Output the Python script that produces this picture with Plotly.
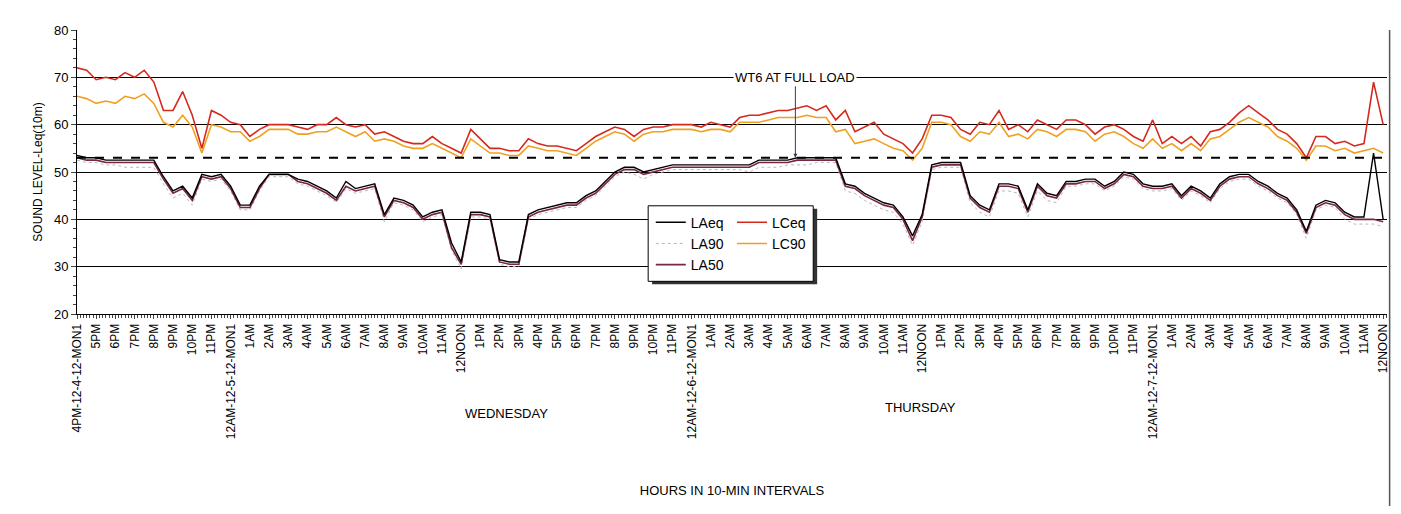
import plotly.graph_objects as go

# half-hour readings, 4PM day 1 .. 12NOON day 4
hours = [i * 0.5 for i in range(137)]

laeq = [53.5, 53, 53, 52.5, 52.5, 52.5, 52.5, 52.5, 52.5,
        49, 46, 47, 44.5, 49.5, 49, 49.5, 47,
        43, 43, 47, 49.5, 49.5, 49.5, 48.5, 48,
        47, 46, 44.5, 48, 46.5, 47, 47.5, 41,
        44.5, 44, 43, 40.5, 41.5, 42, 35, 31,
        41.5, 41.5, 41, 31.5, 31, 31, 41, 42,
        42.5, 43, 43.5, 43.5, 45, 46, 48, 50,
        51, 51, 50, 50.5, 51, 51.5, 51.5, 51.5,
        51.5, 51.5, 51.5, 51.5, 51.5, 51.5, 52.5, 52.5,
        52.5, 52.5, 53, 53, 53, 53, 53, 47.5,
        47, 45.5, 44.5, 43.5, 43, 40.5, 36.5, 41,
        51.5, 52, 52, 52, 45, 43, 42, 47.5,
        47.5, 47, 42, 47.5, 45.5, 45, 48, 48,
        48.5, 48.5, 47, 48, 50, 49.5, 47.5, 47,
        47, 47.5, 45, 47, 46, 44.5, 47.5, 49,
        49.5, 49.5, 48, 47, 45.5, 44.5, 42, 37.5,
        43, 44, 43.5, 41.5, 40.5, 40.5, 54, 40]

la90 = [52.5, 52, 52, 51.5, 51.5, 51, 51, 51, 51,
        47.5, 44.5, 45.5, 43, 48.5, 48, 48.5, 46,
        42, 42, 46, 49, 49, 49, 47.5, 47,
        46, 45, 43.5, 46.5, 45.5, 46, 46.5, 39.5,
        43.5, 43, 42, 39.5, 40.5, 41, 33.5, 29.5,
        40.5, 40.5, 40, 30.5, 30, 30, 40, 41,
        41.5, 42, 42.5, 42.5, 44, 45, 47, 49,
        50, 49.5, 48.5, 49.5, 50, 50.5, 50.5, 50.5,
        50.5, 50.5, 50.5, 50.5, 50.5, 50, 51, 51,
        51, 51.5, 51.5, 51.5, 52, 52, 52, 46,
        45.5, 44, 43, 42, 41.5, 39, 34.5, 39.5,
        50.5, 51, 51, 51, 43.5, 41.5, 40.5, 46,
        46, 45.5, 40.5, 46, 44, 43.5, 47, 47,
        47.5, 47.5, 46, 47, 49, 48.5, 46.5, 46,
        46, 46.5, 44, 46, 45, 43.5, 46.5, 48,
        48.5, 48.5, 47, 46, 44.5, 43.5, 41, 36,
        42, 43, 42.5, 40, 39, 39, 39, 38.5]

la50 = [53, 52.5, 52.5, 52, 52, 52, 52, 52, 52,
        48.5, 45.5, 46.5, 44, 49, 48.5, 49, 46.5,
        42.5, 42.5, 46.5, 49.5, 49.5, 49.5, 48, 47.5,
        46.5, 45.5, 44, 47, 46, 46.5, 47, 40.5,
        44, 43.5, 42.5, 40, 41, 41.5, 34, 30.5,
        41, 41, 40.5, 31, 30.5, 30.5, 40.5, 41.5,
        42, 42.5, 43, 43, 44.5, 45.5, 47.5, 49.5,
        50.5, 50.5, 49.5, 50, 50.5, 51, 51, 51,
        51, 51, 51, 51, 51, 51, 52, 52,
        52, 52, 52.5, 52.5, 52.5, 52.5, 52.5, 47,
        46.5, 45, 44, 43, 42.5, 40, 35.5, 40.5,
        51, 51.5, 51.5, 51.5, 44.5, 42.5, 41.5, 47,
        47, 46.5, 41.5, 47, 45, 44.5, 47.5, 47.5,
        48, 48, 46.5, 47.5, 49.5, 49, 47, 46.5,
        46.5, 47, 44.5, 46.5, 45.5, 44, 47, 48.5,
        49, 49, 47.5, 46.5, 45, 44, 41.5, 37,
        42.5, 43.5, 43, 41, 40, 40, 40, 39.5]

lceq = [72, 71.5, 69.5, 70, 69.5, 71, 70, 71.5, 69,
        63, 63, 67, 62, 55, 63, 62, 60.5,
        60, 57.5, 59, 60, 60, 60, 59.5, 59,
        60, 60, 61.5, 60, 59.5, 60, 58, 58.5,
        57.5, 56.5, 56, 56, 57.5, 56, 55, 54,
        59, 57, 55, 55, 54.5, 54.5, 57, 56,
        55.5, 55.5, 55, 54.5, 56, 57.5, 58.5, 59.5,
        59, 57.5, 59, 59.5, 59.5, 60, 60, 60,
        59.5, 60.5, 60, 59.5, 61.5, 62, 62, 62.5,
        63, 63, 63.5, 64, 63, 64, 61, 63,
        58.5, 59.5, 60.5, 58, 57, 56, 54, 57,
        62, 62, 61.5, 59, 58, 60.5, 60, 63,
        59, 60, 58.5, 61, 60, 59, 61, 61,
        60, 58, 59.5, 60, 59, 57.5, 56.5, 61,
        56, 57.5, 56, 57.5, 55.5, 58.5, 59, 60.5,
        62.5, 64, 62.5, 61, 59, 58, 56, 53,
        57.5, 57.5, 56, 56.5, 55.5, 56, 69, 60]

lc90 = [66, 65.5, 64.5, 65, 64.5, 66, 65.5, 66.5, 64.5,
        60.5, 59.5, 62, 59.5, 54, 60, 59.5, 58.5,
        58.5, 56.5, 57.5, 59, 59, 59, 58, 58,
        58.5, 58.5, 59.5, 58.5, 57.5, 58.5, 56.5, 57,
        56.5, 55.5, 55, 55, 56, 55, 54, 53,
        57, 55.5, 54, 54, 53.5, 53.5, 55.5, 55,
        54.5, 54.5, 54, 53.5, 55, 56.5, 57.5, 58.5,
        58, 56.5, 58, 58.5, 58.5, 59, 59, 59,
        58.5, 59, 59, 58.5, 60.5, 60.5, 60.5, 61,
        61.5, 61.5, 61.5, 62, 61.5, 61.5, 58.5, 59,
        56, 56.5, 57, 56, 55, 54.5, 52.5, 55,
        60.5, 60.5, 60, 57.5, 56.5, 58.5, 58, 60.5,
        57.5, 58, 57, 59, 58.5, 57.5, 59, 59,
        58.5, 56.5, 58, 58.5, 57.5, 56, 55, 57,
        55, 56, 54.5, 56, 54.5, 57, 57.5, 59,
        60.5, 61.5, 60.5, 59.5, 57.5, 56.5, 55, 52.5,
        55.5, 55.5, 54.5, 55, 54, 54.5, 55, 54]

tick_labels = [
    "4PM-12-4-12-MON1", "5PM", "6PM", "7PM", "8PM", "9PM", "10PM", "11PM",
    "12AM-12-5-12-MON1", "1AM", "2AM", "3AM", "4AM", "5AM", "6AM", "7AM", "8AM",
    "9AM", "10AM", "11AM", "12NOON", "1PM", "2PM", "3PM", "4PM", "5PM", "6PM",
    "7PM", "8PM", "9PM", "10PM", "11PM",
    "12AM-12-6-12-MON1", "1AM", "2AM", "3AM", "4AM", "5AM", "6AM", "7AM", "8AM",
    "9AM", "10AM", "11AM", "12NOON", "1PM", "2PM", "3PM", "4PM", "5PM", "6PM",
    "7PM", "8PM", "9PM", "10PM", "11PM",
    "12AM-12-7-12-MON1", "1AM", "2AM", "3AM", "4AM", "5AM", "6AM", "7AM", "8AM",
    "9AM", "10AM", "11AM", "12NOON"]
tick_hours = list(range(len(tick_labels)))

full_load_level = 53
font_family = "Liberation Sans"

fig = go.Figure()
fig.add_trace(go.Scatter(x=hours, y=la90, name="LA90", mode="lines", legend="legend",
                         legendrank=2, line=dict(color="#b8b8b8", width=1, dash="dot")))
fig.add_trace(go.Scatter(x=hours, y=lc90, name="LC90", mode="lines", legend="legend2",
                         legendrank=2, line=dict(color="#f0a020", width=1.6)))
fig.add_trace(go.Scatter(x=hours, y=lceq, name="LCeq", mode="lines", legend="legend2",
                         legendrank=1, line=dict(color="#d42a1e", width=1.6)))
fig.add_trace(go.Scatter(x=hours, y=la50, name="LA50", mode="lines", legend="legend",
                         legendrank=3, line=dict(color="#7a2448", width=1.6)))
fig.add_trace(go.Scatter(x=hours, y=laeq, name="LAeq", mode="lines", legend="legend",
                         legendrank=1, line=dict(color="black", width=1.4)))

# dashed full-load reference
fig.add_shape(type="line", xref="x", yref="y", x0=0, x1=68, y0=full_load_level,
              y1=full_load_level, line=dict(color="black", width=2, dash="dash"))

fig.add_annotation(x=37.4, y=full_load_level, ax=37.4, ay=70, axref="x", ayref="y",
                   xref="x", yref="y", text="WT6 AT FULL LOAD", showarrow=True,
                   arrowhead=2, arrowsize=0.8, arrowwidth=1, bgcolor="white",
                   font=dict(size=13, color="black", family=font_family))

fig.add_annotation(x=0.295, y=-0.383, xref="paper", yref="paper", text="WEDNESDAY",
                   showarrow=False, font=dict(size=13, family=font_family, color="black"))
fig.add_annotation(x=0.644, y=-0.363, xref="paper", yref="paper", text="THURSDAY",
                   showarrow=False, font=dict(size=13, family=font_family, color="black"))

# legend box with shadow
fig.add_shape(type="rect", xref="paper", yref="paper", x0=0.439, x1=0.565, y0=0.105,
              y1=0.371, fillcolor="#333", line=dict(width=0), layer="above")
fig.add_shape(type="rect", xref="paper", yref="paper", x0=0.436, x1=0.562, y0=0.115,
              y1=0.381, fillcolor="white", line=dict(color="black", width=1), layer="above")

# right frame line
fig.add_shape(type="line", xref="paper", yref="paper", x0=1.002, x1=1.002, y0=-0.68, y1=1.0,
              line=dict(color="#555", width=1.5))

legend_style = dict(yanchor="top", xanchor="left", bgcolor="rgba(0,0,0,0)",
                    borderwidth=0, font=dict(size=14, family=font_family),
                    traceorder="normal", tracegroupgap=0)

fig.update_layout(
    width=1393, height=498,
    margin=dict(l=69, r=11, t=22, b=190),
    paper_bgcolor="white", plot_bgcolor="white",
    font=dict(family=font_family, size=12, color="black"),
    showlegend=True,
    legend=dict(x=0.438, y=0.378, **legend_style),
    legend2=dict(x=0.5, y=0.378, **legend_style),
    xaxis=dict(range=[0, 68.2], tickmode="array", tickvals=tick_hours,
               ticktext=tick_labels, tickangle=-90, showgrid=False,
               ticklabeloverflow="allow",
               showline=True, linecolor="black", ticks="outside", ticklen=4,
               minor=dict(dtick=1 / 6, ticks="outside", ticklen=3, tickcolor="#444"),
               tickfont=dict(size=12), zeroline=False,
               title=dict(text="HOURS IN 10-MIN INTERVALS", standoff=47,
                          font=dict(size=13))),
    yaxis=dict(range=[20, 80], dtick=10, showgrid=True, gridcolor="black",
               gridwidth=1, showline=True, linecolor="black", ticks="outside",
               ticklen=5, minor=dict(dtick=2, ticks="outside", ticklen=3),
               zeroline=False, tickfont=dict(size=13),
               title=dict(text="SOUND LEVEL-Leq(10m)", font=dict(size=12), standoff=8)),
)

fig.write_html("out.html")
